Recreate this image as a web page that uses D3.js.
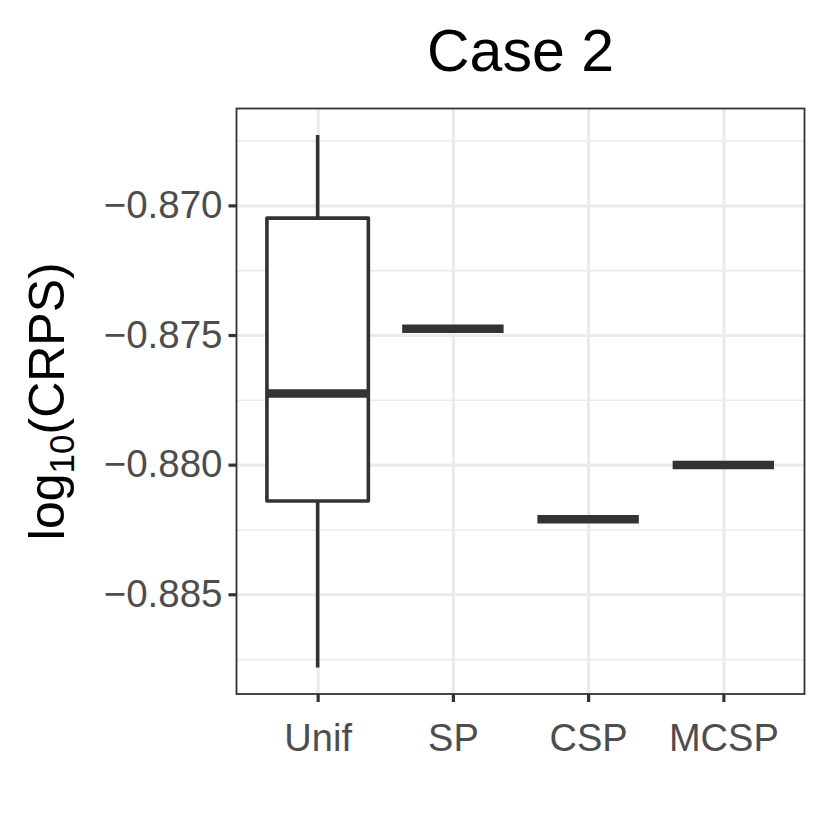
<!DOCTYPE html>
<html>
<head>
<meta charset="utf-8">
<script src="https://cdn.jsdelivr.net/npm/d3@7"></script>
<style>
  body { margin: 0; background: #fff; }
  text { font-family: "Liberation Sans", Arial, sans-serif; }
</style>
</head>
<body>
<div id="graph"></div>
<script>
// data
var methods = ["Unif", "SP", "CSP", "MCSP"];
var whiskerLow  = [-0.88782, -0.87476, -0.88211, -0.88001];
var q1          = [-0.88140, -0.87476, -0.88211, -0.88001];
var median      = [-0.87726, -0.87476, -0.88211, -0.88001];
var q3          = [-0.87049, -0.87476, -0.88211, -0.88001];
var whiskerHigh = [-0.86729, -0.87476, -0.88211, -0.88001];
var yTicks = [-0.885, -0.880, -0.875, -0.870];
var yMinor = [-0.8875, -0.8825, -0.8775, -0.8725, -0.8675];

var width = 830, height = 840;
var margin = {top: 108.5, right: 25.5, bottom: 146, left: 236.5};
var w = width - margin.left - margin.right,
    h = height - margin.top - margin.bottom;

var svg = d3.select("#graph").append("svg")
    .attr("width", width)
    .attr("height", height);

var g = svg.append("g")
    .attr("transform", "translate(" + margin.left + "," + margin.top + ")");

// ggplot style 5% expansion
var lo = d3.min(whiskerLow), hi = d3.max(whiskerHigh);
var pad = (hi - lo) * 0.05;
var y = d3.scaleLinear().domain([lo - pad, hi + pad]).range([h, 0]);
var x = d3.scalePoint().domain(methods).range([0, w]).padding(0.6);
var boxW = x.step() * 0.75;

// grid
g.append("g").call(d3.axisLeft(y).tickValues(yMinor).tickSize(-w).tickFormat(""))
  .call(function(s) {
    s.select(".domain").remove();
    s.selectAll("line").attr("stroke", "#EBEBEB").attr("stroke-width", 1.6);
  });
g.append("g").call(d3.axisLeft(y).tickValues(yTicks).tickSize(-w).tickFormat(""))
  .call(function(s) {
    s.select(".domain").remove();
    s.selectAll("line").attr("stroke", "#EBEBEB").attr("stroke-width", 3.2);
  });
g.append("g").attr("transform", "translate(0," + h + ")")
  .call(d3.axisBottom(x).tickSize(-h).tickFormat(""))
  .call(function(s) {
    s.select(".domain").remove();
    s.selectAll("line").attr("stroke", "#EBEBEB").attr("stroke-width", 3.2);
  });

// boxes
var rows = methods.map(function(m, i) {
  return {m: m, lw: whiskerLow[i], q1: q1[i], med: median[i], q3: q3[i], hw: whiskerHigh[i]};
});
var box = g.selectAll(".box").data(rows).enter().append("g").attr("class", "box");
box.append("line")
    .attr("x1", function(d) { return x(d.m); })
    .attr("x2", function(d) { return x(d.m); })
    .attr("y1", function(d) { return y(d.hw); })
    .attr("y2", function(d) { return y(d.lw); })
    .attr("stroke", "#333333").attr("stroke-width", 3.6);
box.append("rect")
    .attr("x", function(d) { return x(d.m) - boxW / 2; })
    .attr("width", boxW)
    .attr("y", function(d) { return y(d.q3); })
    .attr("height", function(d) { return y(d.q1) - y(d.q3); })
    .attr("fill", "#fff").attr("stroke", "#333333").attr("stroke-width", 3.6)
    .attr("stroke-linejoin", "round");
box.append("line")
    .attr("x1", function(d) { return x(d.m) - boxW / 2; })
    .attr("x2", function(d) { return x(d.m) + boxW / 2; })
    .attr("y1", function(d) { return y(d.med); })
    .attr("y2", function(d) { return y(d.med); })
    .attr("stroke", "#333333").attr("stroke-width", 8.5);

// panel border
g.append("rect").attr("width", w).attr("height", h)
    .attr("fill", "none").attr("stroke", "#333333").attr("stroke-width", 1.8);

// axes
g.append("g").call(d3.axisLeft(y).tickValues(yTicks).tickSize(8).tickPadding(6).tickFormat(d3.format(".3f")))
  .call(function(s) {
    s.select(".domain").remove();
    s.selectAll("line").attr("stroke", "#333333").attr("stroke-width", 3.2);
    s.selectAll("text").attr("fill", "#4D4D4D").style("font-size", "38.5px")
      .style("font-family", "'Liberation Sans', Arial, sans-serif");
  });
g.append("g").attr("transform", "translate(0," + h + ")")
  .call(d3.axisBottom(x).tickSize(8).tickPadding(6))
  .call(function(s) {
    s.select(".domain").remove();
    s.selectAll("line").attr("stroke", "#333333").attr("stroke-width", 3.2);
    s.selectAll("text").attr("fill", "#4D4D4D").style("font-size", "38px")
      .style("font-family", "'Liberation Sans', Arial, sans-serif")
      .attr("dy", null).attr("y", 57);
  });

// title
svg.append("text").attr("x", margin.left + w / 2).attr("y", 71)
    .attr("text-anchor", "middle").style("font-size", "59px").attr("fill", "#000")
    .text("Case 2");

// y axis title
var yt = svg.append("text")
    .attr("transform", "translate(64," + (margin.top + h / 2) + ") rotate(-90)")
    .attr("text-anchor", "middle").style("font-size", "50px").attr("fill", "#000");
yt.append("tspan").text("log");
yt.append("tspan").attr("dy", 10).style("font-size", "35px").text("10");
yt.append("tspan").attr("dy", -10).text("(CRPS)");
</script>
</body>
</html>
